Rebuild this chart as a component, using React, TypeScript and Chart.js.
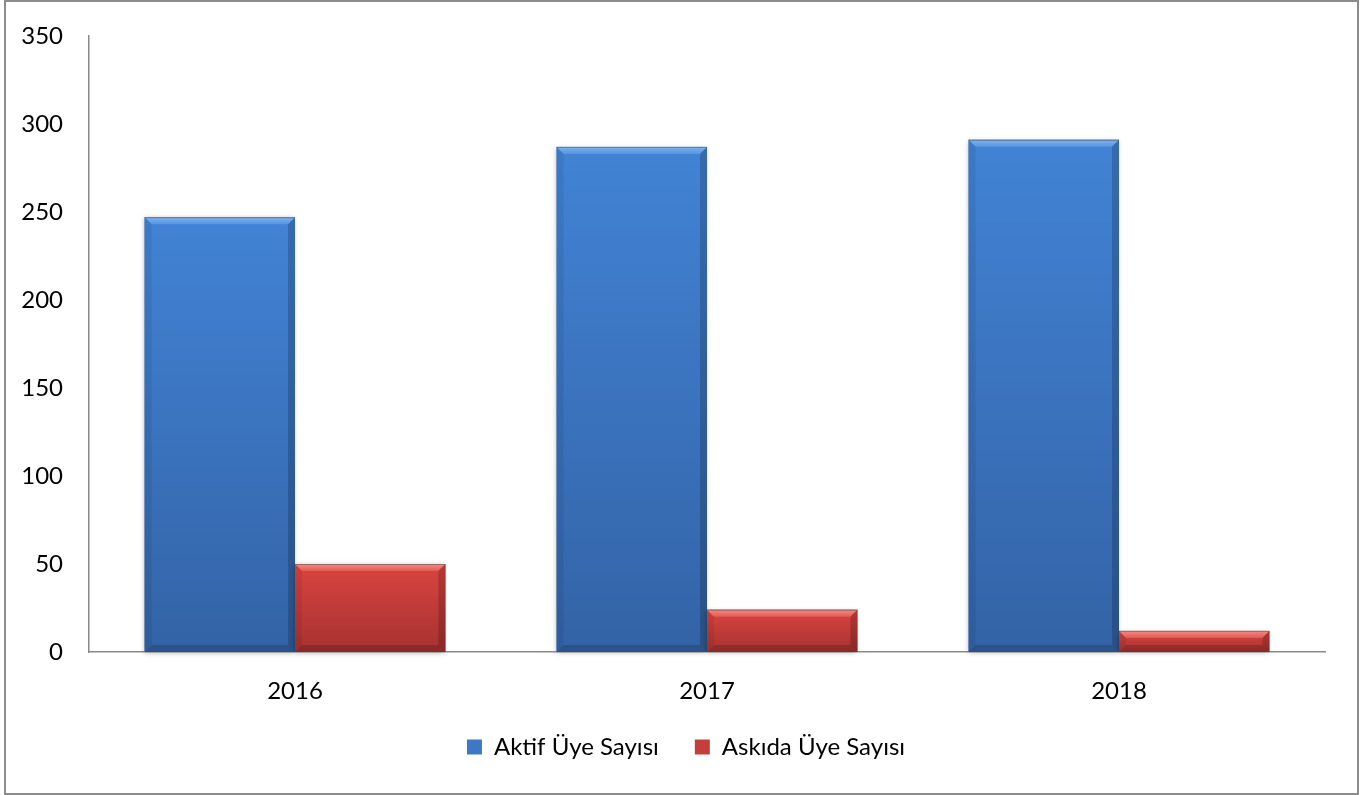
import React, { useEffect, useRef } from "react";
import { Chart, registerables } from "chart.js";

Chart.register(...registerables);

const categories: string[] = ["2016", "2017", "2018"];
const aktifValues: number[] = [247, 287, 291];
const askidaValues: number[] = [50, 24, 12];
const seriesNames: string[] = ["Aktif Üye Sayısı", "Askıda Üye Sayısı"];
const yTicks: number[] = [0, 50, 100, 150, 200, 250, 300, 350];

const FONT = "Lato, 'Open Sans', sans-serif";

const palettes = [
  { top: "#4283D5", bottom: "#3363A6", light1: "#7DB3F0", light2: "#5895DF", solid: "#3D78C4" },
  { top: "#DA4440", bottom: "#A63230", light1: "#F58A86", light2: "#E25A55", solid: "#C63E3A" },
];

const legendShift = {
  id: "legendShift",
  afterLayout(chart: any) {
    if (chart.legend) {
      chart.legend.left += 19;
      chart.legend.right += 19;
    }
  },
};

const bevelPlugin = {
  id: "bevelBars",
  afterDatasetsDraw(chart: any) {
    const ctx: CanvasRenderingContext2D = chart.ctx;
    chart.data.datasets.forEach((_ds: any, di: number) => {
      const meta = chart.getDatasetMeta(di);
      const pal = palettes[di];
      meta.data.forEach((el: any) => {
        const { x, y, base, width } = el.getProps(["x", "y", "base", "width"], true);
        const l = x - width / 2;
        const r = x + width / 2;
        const t = Math.min(y, base);
        const b = Math.max(y, base);
        const h = b - t;
        const bv = Math.min(7, h / 2);
        ctx.save();
        ctx.shadowColor = "rgba(0,0,0,0.28)";
        ctx.shadowBlur = 5;
        ctx.shadowOffsetX = -1;
        ctx.shadowOffsetY = 1;
        const g = ctx.createLinearGradient(0, t, 0, b);
        g.addColorStop(0, pal.top);
        g.addColorStop(1, pal.bottom);
        ctx.fillStyle = g;
        ctx.fillRect(l, t, r - l, h);
        ctx.shadowColor = "transparent";
        ctx.shadowBlur = 0;
        ctx.shadowOffsetX = 0;
        ctx.shadowOffsetY = 0;
        const tg = ctx.createLinearGradient(0, t, 0, t + bv);
        tg.addColorStop(0, pal.light1);
        tg.addColorStop(1, pal.light2);
        ctx.fillStyle = tg;
        ctx.beginPath();
        ctx.moveTo(l, t);
        ctx.lineTo(r, t);
        ctx.lineTo(r - bv, t + bv);
        ctx.lineTo(l + bv, t + bv);
        ctx.closePath();
        ctx.fill();
        ctx.fillStyle = "rgba(0,0,0,0.18)";
        ctx.beginPath();
        ctx.moveTo(r, t);
        ctx.lineTo(r, b);
        ctx.lineTo(r - bv, b - bv);
        ctx.lineTo(r - bv, t + bv);
        ctx.closePath();
        ctx.fill();
        ctx.fillStyle = "rgba(0,0,0,0.07)";
        ctx.beginPath();
        ctx.moveTo(l, t);
        ctx.lineTo(l + bv, t + bv);
        ctx.lineTo(l + bv, b - bv);
        ctx.lineTo(l, b);
        ctx.closePath();
        ctx.fill();
        ctx.fillStyle = "rgba(0,0,0,0.16)";
        ctx.beginPath();
        ctx.moveTo(l, b);
        ctx.lineTo(r, b);
        ctx.lineTo(r - bv, b - bv);
        ctx.lineTo(l + bv, b - bv);
        ctx.closePath();
        ctx.fill();
        ctx.strokeStyle = "rgba(60,60,60,0.45)";
        ctx.lineWidth = 1;
        ctx.beginPath();
        ctx.moveTo(l, t + 0.5);
        ctx.lineTo(r, t + 0.5);
        ctx.stroke();
        ctx.restore();
      });
    });
  },
};

export default function App() {
  const ref = useRef<HTMLCanvasElement | null>(null);

  useEffect(() => {
    document.body.style.margin = "0";
    if (!ref.current) return;
    const chart = new Chart(ref.current, {
      type: "bar",
      data: {
        labels: categories,
        datasets: [
          {
            label: seriesNames[0],
            data: aktifValues,
            backgroundColor: palettes[0].solid,
            categoryPercentage: 0.73,
            barPercentage: 1,
          },
          {
            label: seriesNames[1],
            data: askidaValues,
            backgroundColor: palettes[1].solid,
            categoryPercentage: 0.73,
            barPercentage: 1,
          },
        ],
      },
      options: {
        animation: false,
        responsive: false,
        devicePixelRatio: 1,
        layout: { padding: { left: 9, right: 35, top: 36, bottom: 26 } },
        plugins: {
          tooltip: { enabled: false },
          legend: {
            position: "bottom",
            labels: {
              boxWidth: 15,
              boxHeight: 15,
              padding: 36,
              color: "#000",
              font: { family: FONT, size: 24 },
            },
          },
        },
        scales: {
          x: {
            grid: { display: false, drawTicks: false },
            border: { display: true, color: "#8a8a8a", width: 1.5 },
            ticks: { color: "#000", padding: 25, font: { family: FONT, size: 24 } },
            afterFit: (s: any) => {
              s.height = 47;
            },
          },
          y: {
            min: 0,
            max: 350,
            grid: { display: false, drawTicks: false },
            border: { display: true, color: "#8a8a8a", width: 1.5 },
            afterBuildTicks: (s: any) => {
              s.ticks = yTicks.map((v) => ({ value: v }));
            },
            ticks: { color: "#000", padding: 26, font: { family: FONT, size: 24 } },
            afterFit: (s: any) => {
              s.width = 80;
              s.paddingTop = 0;
              s.paddingBottom = 0;
            },
          },
        },
      },
      plugins: [bevelPlugin, legendShift],
    });
    return () => chart.destroy();
  }, []);

  return (
    <div style={{ position: "fixed", left: 0, top: 0, width: 1360, height: 795, background: "#fff" }}>
      <canvas ref={ref} width={1360} height={795} style={{ width: 1360, height: 795, display: "block" }} />
      <div
        style={{
          position: "absolute",
          left: 4,
          top: 0,
          width: 1355,
          height: 795,
          boxSizing: "border-box",
          border: "2px solid #8c8c8c",
          pointerEvents: "none",
        }}
      />
    </div>
  );
}
